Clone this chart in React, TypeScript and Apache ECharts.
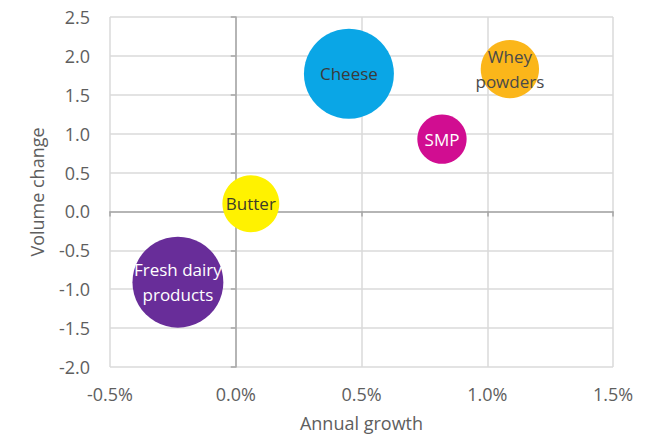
import React, { useEffect, useRef } from "react";
import * as echarts from "echarts";

// Dairy product groups: annual growth (%) vs. volume change, bubble = relative size
const products = ["Cheese", "Whey\npowders", "SMP", "Butter", "Fresh dairy\nproducts"];
const annualGrowth = [0.45, 1.09, 0.82, 0.06, -0.23];
const volumeChange = [1.77, 1.83, 0.93, 0.1, -0.91];
const bubbleSize = [100, 42, 30, 40, 102];
const bubbleColors = ["#0AA6E6", "#FBB61A", "#D10D91", "#FFF200", "#682D99"];
const labelColors = ["#3a3a3a", "#4a4a4a", "#ffffff", "#3d3d2a", "#ffffff"];

const xTicks = { min: -0.5, max: 1.5, interval: 0.5 };
const yTicks = { min: -2.0, max: 2.5, interval: 0.5 };

const FONT = "'Open Sans', 'Noto Sans', sans-serif";
const GRID_COLOR = "#dadada";
const AXIS_COLOR = "#a6a6a6";
const TEXT_COLOR = "#5e5e5e";

export default function App() {
  const ref = useRef<HTMLDivElement>(null);

  useEffect(() => {
    if (!ref.current) return;
    const chart = echarts.init(ref.current, undefined, { renderer: "svg" });

    const data = products.map((name, i) => ({
      name,
      value: [annualGrowth[i], volumeChange[i], bubbleSize[i]],
      itemStyle: { color: bubbleColors[i], opacity: 1 },
      label: { color: labelColors[i] },
    }));

    // Axes carrying labels and grid lines sit on the plot edges;
    // the second pair only draws the zero lines with their ticks.
    const zeroAxisCommon = {
      axisLabel: { show: false },
      splitLine: { show: false },
      axisTick: { show: true, length: 5, lineStyle: { color: AXIS_COLOR, width: 1.5 } },
    };

    chart.setOption({
      animation: false,
      textStyle: { fontFamily: FONT },
      grid: { left: 110, right: 47, top: 17, bottom: 73, containLabel: false },
      xAxis: [
        {
          type: "value",
          ...xTicks,
          position: "bottom",
          name: "Annual growth",
          nameLocation: "middle",
          nameGap: 47,
          nameTextStyle: { fontSize: 18, color: TEXT_COLOR, fontFamily: FONT },
          axisLine: { show: false, onZero: false },
          axisTick: { show: false },
          axisLabel: {
            fontSize: 18,
            color: TEXT_COLOR,
            margin: 18,
            fontFamily: FONT,
            formatter: (v: number) => v.toFixed(1) + "%",
          },
          splitLine: { show: true, lineStyle: { color: GRID_COLOR, width: 1.5 } },
        },
        {
          type: "value",
          ...xTicks,
          position: "bottom",
          axisLine: { show: true, onZero: true, onZeroAxisIndex: 0, lineStyle: { color: AXIS_COLOR, width: 1.5 } },
          ...zeroAxisCommon,
        },
      ],
      yAxis: [
        {
          type: "value",
          ...yTicks,
          position: "left",
          name: "Volume change",
          nameLocation: "middle",
          nameGap: 64,
          nameTextStyle: { fontSize: 18, color: TEXT_COLOR, fontFamily: FONT },
          axisLine: { show: false, onZero: false },
          axisTick: { show: false },
          axisLabel: {
            fontSize: 18,
            color: TEXT_COLOR,
            margin: 20,
            fontFamily: FONT,
            formatter: (v: number) => v.toFixed(1),
          },
          splitLine: { show: true, lineStyle: { color: GRID_COLOR, width: 1.5 } },
        },
        {
          type: "value",
          ...yTicks,
          position: "left",
          axisLine: { show: true, onZero: true, onZeroAxisIndex: 0, lineStyle: { color: AXIS_COLOR, width: 1.5 } },
          ...zeroAxisCommon,
        },
      ],
      series: [
        {
          type: "scatter",
          xAxisIndex: 0,
          yAxisIndex: 0,
          data,
          symbolSize: (val: number[]) => 9 * Math.sqrt(val[2]),
          label: {
            show: true,
            position: "inside",
            formatter: (p: any) => p.name,
            fontSize: 17,
            lineHeight: 25,
            fontFamily: FONT,
          },
          emphasis: { disabled: true },
        },
      ],
    });

    return () => chart.dispose();
  }, []);

  return (
    <div
      ref={ref}
      style={{ position: "absolute", left: 0, top: 0, width: 660, height: 440, background: "#ffffff" }}
    />
  );
}
